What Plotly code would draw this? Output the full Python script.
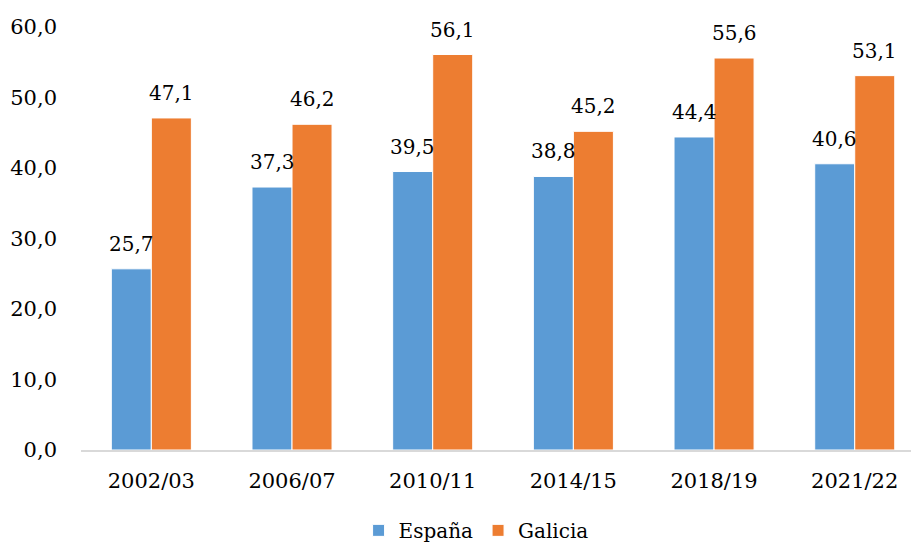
import plotly.graph_objects as go

categories = ["2002/03", "2006/07", "2010/11", "2014/15", "2018/19", "2021/22"]
espana = [25.7, 37.3, 39.5, 38.8, 44.4, 40.6]
galicia = [47.1, 46.2, 56.1, 45.2, 55.6, 53.1]
series_names = ["España", "Galicia"]
colors = ["#5B9BD5", "#ED7D31"]

FONT = "DejaVu Serif"
BARGAP = 0.431
half = (1 - BARGAP) / 4

fig = go.Figure()
for name, vals, col in zip(series_names, [espana, galicia], colors):
    fig.add_trace(go.Bar(
        x=categories, y=vals, name=name,
        marker=dict(color=col, line=dict(color="white", width=1)),
        hoverinfo="skip",
    ))

def fmt(v):
    return f"{v:.1f}".replace(".", ",")

annotations = []
for k, (vals, sign) in enumerate([(espana, -1), (galicia, 1)]):
    for i, v in enumerate(vals):
        annotations.append(dict(
            x=i + sign * half, y=v, xref="x", yref="y",
            text=fmt(v), showarrow=False, yanchor="middle", yshift=25,
            font=dict(family=FONT, size=20, color="#000000"),
        ))

fig.update_layout(
    width=911, height=545,
    margin=dict(l=81, r=0, t=27, b=94.5, autoexpand=False),
    paper_bgcolor="white", plot_bgcolor="white",
    barmode="group", bargap=BARGAP, bargroupgap=0,
    separators=",.",
    font=dict(family=FONT, size=20, color="#000000"),
    annotations=annotations,
    legend=dict(orientation="h", x=0.476, xanchor="center", y=-0.19, yanchor="middle",
                font=dict(family=FONT, size=20), itemwidth=30),
    xaxis=dict(type="category", range=[-0.5, 5.4], showline=True, linecolor="#D9D9D9",
               linewidth=1.5, showgrid=False, ticks="", ticklabelstandoff=11,
               automargin=False, tickfont=dict(family=FONT, size=21)),
    yaxis=dict(range=[0, 60], tickvals=[0, 10, 20, 30, 40, 50, 60], tickformat=".1f",
               showgrid=False, zeroline=False, showline=False, ticks="",
               automargin=False, ticklabelstandoff=23, tickfont=dict(family=FONT, size=21)),
    showlegend=True,
)

fig.write_html(
    "out.html",
    config={"displayModeBar": False},
    post_script="document.body.style.margin='0';document.body.style.overflow='hidden';",
)
